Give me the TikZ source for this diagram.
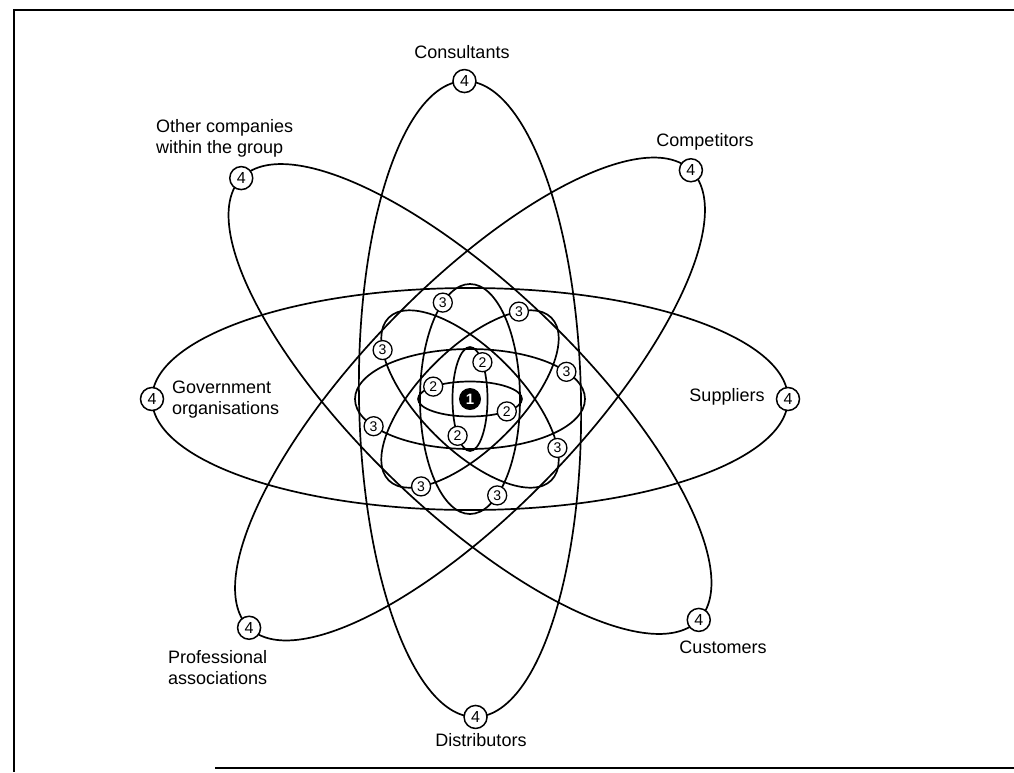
\documentclass[tikz,border=0pt]{standalone}
\usepackage{fontspec}
\setmainfont{Liberation Sans}
\begin{document}
\begin{tikzpicture}[x=1pt,y=-1pt,
  orbit/.style={line width=1.7pt},
  framebar/.style={line width=2pt},
  lvlfour/.style={circle,draw,line width=1.5pt,fill=white,minimum size=23pt,inner sep=0pt,font=\fontsize{16}{16}\selectfont},
  lvlthree/.style={circle,draw,line width=1.3pt,fill=white,minimum size=19pt,inner sep=0pt,font=\fontsize{14}{14}\selectfont},
  lvltwo/.style={circle,draw,line width=1.3pt,fill=white,minimum size=19pt,inner sep=0pt,font=\fontsize{14}{14}\selectfont},
  core/.style={circle,fill=black,minimum size=22pt,inner sep=0pt,text=white,font=\bfseries\fontsize{15}{15}\selectfont},
  lbl/.style={font=\fontsize{18}{21}\selectfont,inner sep=0pt}
]
\useasboundingbox (0,0) rectangle (1014,772);
\coordinate (C) at (470,399);

% frame
\draw[framebar] (1014,10) -- (14,10) -- (14,772);
\draw[framebar] (215,768) -- (1014,768);

% level 4 orbits
\foreach \r in {0,91,-44,46}{
  \begin{scope}[shift={(C)},rotate=\r]
    \draw[orbit] (0,0) ellipse [x radius=318, y radius=111];
  \end{scope}
}
% level 3 orbits
\foreach \r in {0,90,-45,45}{
  \begin{scope}[shift={(C)},rotate=\r]
    \draw[orbit] (0,0) ellipse [x radius=115, y radius=50];
  \end{scope}
}
% level 2 orbits
\foreach \r in {0,90}{
  \begin{scope}[shift={(C)},rotate=\r]
    \draw[orbit] (0,0) ellipse [x radius=52, y radius=17.5];
  \end{scope}
}

% level 4 nodes
\begin{scope}[shift={(C)},rotate=0]
  \node[lvlfour] (sup4) at (318,0) {4};
  \node[lvlfour] (gov4) at (-318,0) {4};
\end{scope}
\begin{scope}[shift={(C)},rotate=91]
  \node[lvlfour] (con4) at (318,0) {4};
  \node[lvlfour] (dis4) at (-318,0) {4};
\end{scope}
\begin{scope}[shift={(C)},rotate=-44]
  \node[lvlfour] (cus4) at (318,0) {4};
  \node[lvlfour] (oth4) at (-318,0) {4};
\end{scope}
\begin{scope}[shift={(C)},rotate=46]
  \node[lvlfour] (com4) at (318,0) {4};
  \node[lvlfour] (pro4) at (-318,0) {4};
\end{scope}

% level 3 nodes
\foreach \r/\k in {0/a,90/b,-45/c,45/d}{
  \begin{scope}[shift={(C)},rotate=\r]
    \node[lvlthree] (t\k1) at (96.4,-27.2) {3};
    \node[lvlthree] (t\k2) at (-96.4,27.2) {3};
  \end{scope}
}

% level 2 nodes
\foreach \r/\k in {0/a,90/b}{
  \begin{scope}[shift={(C)},rotate=\r]
    \node[lvltwo] (s\k1) at (36.8,12.4) {2};
    \node[lvltwo] (s\k2) at (-36.8,-12.4) {2};
  \end{scope}
}

% core
\node[core] (one) at (C) {1};

% labels
\node[lbl] (cons) at (462,52) {Consultants};
\node[lbl] (comp) at (705,142) {Competitors};
\node[lbl] (supp) at (727,397) {Suppliers};
\node[lbl] (cust) at (723,647) {Customers};
\node[lbl] (dist) at (481,740) {Distributors};
\node[lbl,anchor=west,align=left] (oth) at (156,138.5) {Other companies\\within the group};
\node[lbl,anchor=west,align=left] (gov) at (172,400) {Government\\organisations};
\node[lbl,anchor=west,align=left] (prof) at (168,668) {Professional\\associations};
\end{tikzpicture}
\end{document}
